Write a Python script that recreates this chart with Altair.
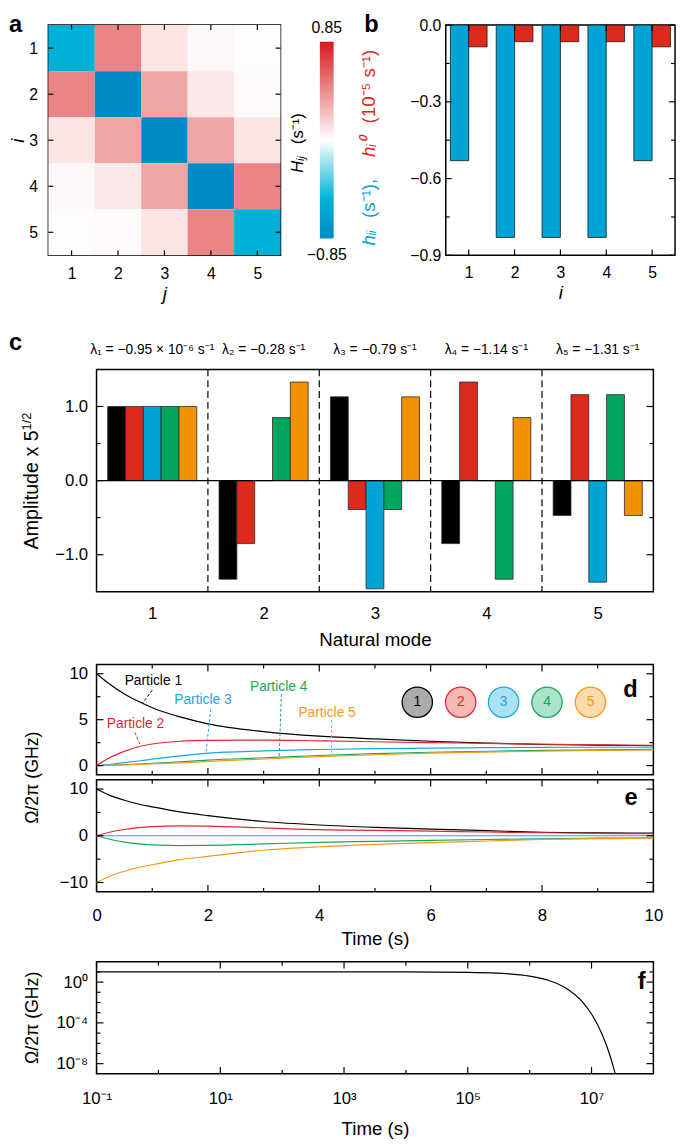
import altair as alt
import pandas as pd

FONT = "Liberation Sans"

# ---------------- data ----------------
idx = [1, 2, 3, 4, 5]
H_row1 = [-0.53, 0.45, 0.10, 0.03, 0.01]
H_row2 = [0.45, -0.83, 0.33, 0.08, 0.02]
H_row3 = [0.10, 0.33, -0.83, 0.33, 0.10]
H_row4 = [0.03, 0.08, 0.33, -0.83, 0.45]
H_row5 = [0.01, 0.02, 0.10, 0.45, -0.53]
cbar_limits = [-0.85, 0.85]
cbar_labels = ["\u22120.85", "0.85"]

h_ii = [-0.53, -0.83, -0.83, -0.83, -0.53]
h_i0 = [-0.085, -0.065, -0.065, -0.065, -0.085]

modes = [1, 2, 3, 4, 5]
amp_p1 = [1.0, -1.33, 1.13, -0.85, -0.47]
amp_p2 = [1.0, -0.85, -0.39, 1.33, 1.16]
amp_p3 = [1.0, 0.0, -1.46, 0.0, -1.37]
amp_p4 = [1.0, 0.85, -0.39, -1.33, 1.16]
amp_p5 = [1.0, 1.33, 1.13, 0.85, -0.47]
mode_edges = [1.5, 2.5, 3.5, 4.5]
lambda_labels = [
    "\u03bb\u2081 = \u22120.95 \u00d7 10\u207b\u2076 s\u207b\u00b9",
    "\u03bb\u2082 = \u22120.28 s\u207b\u00b9",
    "\u03bb\u2083 = \u22120.79 s\u207b\u00b9",
    "\u03bb\u2084 = \u22121.14 s\u207b\u00b9",
    "\u03bb\u2085 = \u22121.31 s\u207b\u00b9",
]

t_pts = [0, 0.25, 0.5, 0.75, 1, 1.5, 2, 3, 4, 5, 6, 7, 8, 9, 10]
d_p1 = [10.0, 8.8, 7.8, 7.0, 6.3, 5.3, 4.55, 3.7, 3.2, 2.9, 2.65, 2.45, 2.3, 2.22, 2.17]
d_p2 = [0.0, 0.9, 1.55, 2.05, 2.35, 2.65, 2.75, 2.78, 2.7, 2.6, 2.5, 2.42, 2.33, 2.27, 2.2]
d_p3 = [0.0, 0.15, 0.32, 0.5, 0.7, 1.05, 1.35, 1.6, 1.75, 1.85, 1.9, 1.95, 1.98, 2.0, 2.0]
d_p4 = [0.0, 0.04, 0.1, 0.17, 0.25, 0.42, 0.6, 0.85, 1.1, 1.3, 1.45, 1.56, 1.65, 1.71, 1.76]
d_p5 = [0.0, 0.03, 0.07, 0.12, 0.18, 0.3, 0.45, 0.72, 0.98, 1.18, 1.35, 1.47, 1.57, 1.64, 1.7]

e_p1 = [10.0, 8.6, 7.6, 6.8, 6.2, 5.1, 4.3, 3.05, 2.3, 1.8, 1.43, 1.1, 0.75, 0.62, 0.55]
e_p2 = [0.0, 0.8, 1.35, 1.75, 1.95, 2.1, 2.05, 1.7, 1.3, 1.15, 1.0, 0.8, 0.65, 0.52, 0.45]
e_p3 = [0.0, 0.0, 0.0, 0.0, 0.0, 0.0, 0.0, 0.0, 0.0, 0.0, 0.0, 0.0, 0.0, 0.0, 0.0]
e_p4 = [0.0, -0.8, -1.35, -1.75, -1.95, -2.1, -2.05, -1.75, -1.4, -1.2, -1.0, -0.8, -0.65, -0.52, -0.45]
e_p5 = [-10.0, -8.6, -7.6, -6.8, -6.2, -5.1, -4.4, -3.1, -2.35, -1.85, -1.45, -1.12, -0.8, -0.62, -0.5]

particle_keys = ["1", "2", "3", "4", "5"]
particle_names = ["Particle 1", "Particle 2", "Particle 3", "Particle 4", "Particle 5"]
label_t = [1.02, 0.70, 1.91, 3.27, 4.14]
label_v = [9.25, 4.47, 7.1, 8.6, 5.75]
leader_t0 = [1.0, 0.69, 2.05, 3.32, 4.22]
leader_v0 = [8.2, 3.62, 6.13, 7.8, 4.96]
leader_t1 = [0.83, 0.79, 1.965, 3.28, 4.22]
leader_v1 = [6.84, 2.13, 1.35, 0.96, 1.06]
circle_t = [5.76, 6.54, 7.31, 8.09, 8.87]
circle_v = [6.9, 6.9, 6.9, 6.9, 6.9]

t_f = [0.1, 1, 10, 100, 1e3, 1e4, 1e5, 3e5, 1e6, 2e6, 4e6, 7e6, 1e7, 1.5e7, 2e7, 2.5e7]
omega_f = [10, 10, 10, 10, 10, 9.9, 9.1, 7.5, 3.9, 1.5, 0.22, 0.013, 7.5e-4, 6.5e-6, 5.6e-8, 4.8e-10]

BAR_COLORS = ["#000000", "#dc2a1c", "#00a3d6", "#00a65d", "#f39200"]
LINE_COLORS = ["#000000", "#e3262d", "#1aa7dd", "#16a85a", "#f7981d"]


# ---------------- helpers ----------------
def ptext(txt, x, y, size=14, color="black", align="center", baseline="middle",
          angle=0, style=None, weight=None):
    kw = dict(fontSize=size, color=color, align=align, baseline=baseline, font=FONT)
    if angle:
        kw["angle"] = angle
    if style:
        kw["fontStyle"] = style
    if weight:
        kw["fontWeight"] = weight
    return alt.Chart(pd.DataFrame({"t": [txt]})).mark_text(**kw).encode(
        text="t:N", x=alt.value(x), y=alt.value(y))


def letter(ch, x, y, align="left", baseline="alphabetic"):
    return ptext(ch, x, y, size=24, align=align, baseline=baseline, weight="bold")


def ticks_layers(W, H, sx=None, sy=None, x_major=(), x_minor=(), y_major=(), y_minor=(),
                 major=7, minor=4):
    layers = []
    for vals, ln in ((y_major, major), (y_minor, minor)):
        if len(vals) == 0:
            continue
        df = pd.DataFrame({"v": list(vals)})
        for side in ("left", "right"):
            x0, x1 = (0, ln) if side == "left" else (W, W - ln)
            layers.append(alt.Chart(df).mark_rule(color="black", strokeWidth=1.2).encode(
                y=alt.Y("v:Q", scale=sy), x=alt.value(x0), x2=alt.value(x1)))
    for vals, ln in ((x_major, major), (x_minor, minor)):
        if len(vals) == 0:
            continue
        df = pd.DataFrame({"v": list(vals)})
        for side in ("bottom", "top"):
            y0, y1 = (H, H - ln) if side == "bottom" else (0, ln)
            layers.append(alt.Chart(df).mark_rule(color="black", strokeWidth=1.2).encode(
                x=alt.X("v:Q", scale=sx), y=alt.value(y0), y2=alt.value(y1)))
    return layers


def spacer(w, h):
    return alt.Chart(pd.DataFrame({"s": [0]})).mark_point(opacity=0).encode(
        x=alt.value(0), y=alt.value(0)
    ).properties(width=w, height=h, view=alt.ViewBackground(stroke=None))


line_scale = alt.Scale(domain=particle_keys, range=LINE_COLORS)
bar_scale = alt.Scale(domain=particle_keys, range=BAR_COLORS)

# ---------------- panel a ----------------
WA, HA = 236, 234
H_rows = [H_row1, H_row2, H_row3, H_row4, H_row5]
hm_df = pd.DataFrame([{"i": i, "j": j, "H": H_rows[i - 1][j - 1]} for i in idx for j in idx])
sxa = alt.Scale(domain=[0.5, 5.5], nice=False, zero=False)
sya = alt.Scale(domain=[0.5, 5.5], nice=False, zero=False, reverse=True)
heat_color = alt.Scale(domain=[-0.85, -0.5, 0, 0.85],
                       range=["#0089c7", "#00b4d8", "#ffffff", "#d7191c"], interpolate="rgb")
heat = alt.Chart(hm_df).transform_calculate(
    j0="datum.j - 0.5", j1="datum.j + 0.5", i0="datum.i - 0.5", i1="datum.i + 0.5"
).mark_rect(strokeWidth=0).encode(
    x=alt.X("j0:Q", scale=sxa, axis=alt.Axis(values=idx, format="d", title="j", labelPadding=11,
                                             titlePadding=3, titleFontStyle="italic",
                                             labelFontSize=16, titleFontSize=19)),
    x2="j1:Q",
    y=alt.Y("i0:Q", scale=sya, axis=alt.Axis(values=idx, format="d", title="i", labelPadding=11,
                                             titlePadding=1, titleFontStyle="italic",
                                             labelFontSize=16, titleFontSize=19)),
    y2="i1:Q",
    color=alt.Color("H:Q", scale=heat_color, legend=None),
)
chartA = alt.layer(
    heat,
    *ticks_layers(WA, HA, sxa, sya, x_major=idx, y_major=idx, major=5),
    letter("a", -40, -12, baseline="top"),
).properties(width=WA, height=HA)

# ---------------- colorbar ----------------
WCB = 14
cb_pad = 17
span = cbar_limits[1] - cbar_limits[0]
px_per_unit = (HA - 2 * cb_pad) / span
cb_dom = [cbar_limits[0] - cb_pad / px_per_unit, cbar_limits[1] + cb_pad / px_per_unit]
sycb = alt.Scale(domain=cb_dom, nice=False, zero=False)
grad = alt.LinearGradient(
    gradient="linear",
    stops=[
        alt.GradientStop(color="#0089c7", offset=0),
        alt.GradientStop(color="#00b4d8", offset=0.206),
        alt.GradientStop(color="#ffffff", offset=0.5),
        alt.GradientStop(color="#d7191c", offset=1),
    ],
    x1=0, x2=0, y1=1, y2=0,
)
cb_rect = alt.Chart(pd.DataFrame({"lo": [cbar_limits[0]], "hi": [cbar_limits[1]]})).mark_rect(
    fill=grad).encode(
    y=alt.Y("lo:Q", scale=sycb, axis=None), y2="hi:Q", x=alt.value(0), x2=alt.value(WCB))
cb_lab_df = pd.DataFrame({"v": cbar_limits, "lab": cbar_labels})
cb_top = alt.Chart(cb_lab_df).transform_filter("datum.v > 0").mark_text(
    fontSize=16, baseline="bottom", dy=-6).encode(
    y=alt.Y("v:Q", scale=sycb), x=alt.value(WCB / 2), text="lab:N")
cb_bot = alt.Chart(cb_lab_df).transform_filter("datum.v < 0").mark_text(
    fontSize=16, baseline="top", dy=9).encode(
    y=alt.Y("v:Q", scale=sycb), x=alt.value(WCB / 2), text="lab:N")
chartCB = alt.layer(
    cb_rect, cb_top, cb_bot,
    ptext("H\u1d62\u2c7c", -22, 150, size=17, align="left", angle=270, style="italic"),
    ptext("(s\u207b\u00b9)", -22, 121, size=17, align="left", angle=270),
).properties(width=88, height=HA, view=alt.ViewBackground(stroke=None))

# ---------------- panel b ----------------
WB, HB = 233, 234
b_df = pd.DataFrame({"i": idx, "h": h_ii, "h0": h_i0})
sxb = alt.Scale(domain=[0.5, 5.5], nice=False, zero=False)
syb = alt.Scale(domain=[-0.9, 0], nice=False, zero=False)
b_blue = alt.Chart(b_df).transform_calculate(
    x0="datum.i - 0.4", x1="datum.i", z="0").mark_rect(
    fill="#00a3d6", stroke="#1a1a1a", strokeWidth=0.8).encode(
    x=alt.X("x0:Q", scale=sxb, axis=alt.Axis(values=idx, format="d", title="i", labelPadding=10,
                                             titlePadding=3, titleFontStyle="italic",
                                             labelFontSize=16, titleFontSize=19)),
    x2="x1:Q",
    y=alt.Y("h:Q", scale=syb, axis=alt.Axis(values=[0, -0.3, -0.6, -0.9], format=".1f",
                                            title=None, labelPadding=5, labelFontSize=16)),
    y2="z:Q",
)
b_red = alt.Chart(b_df).transform_calculate(
    x0="datum.i", x1="datum.i + 0.4", z="0").mark_rect(
    fill="#dc2a1c", stroke="#1a1a1a", strokeWidth=0.8).encode(
    x=alt.X("x0:Q", scale=sxb), x2="x1:Q",
    y=alt.Y("h0:Q", scale=syb), y2="z:Q",
)
BLUE_T = "#00a3d6"
RED_T = "#e0281c"
chartB = alt.layer(
    b_blue, b_red,
    *ticks_layers(WB, HB, sxb, syb, x_major=idx, y_major=[0, -0.3, -0.6, -0.9],
                  y_minor=[-0.15, -0.45, -0.75], major=6, minor=4),
    ptext("h\u1d62\u1d62", -78, 224, size=19, color=BLUE_T, align="left", angle=270, style="italic"),
    ptext("(s\u207b\u00b9),", -78, 196, size=19, color=BLUE_T, align="left", angle=270),
    ptext("h\u1d62\u2070", -78, 134, size=19, color=RED_T, align="left", angle=270, style="italic"),
    ptext("(10\u207b\u2075 s\u207b\u00b9)", -78, 100, size=19, color=RED_T, align="left", angle=270),
    letter("b", -83, -12, baseline="top"),
).properties(width=WB, height=HB)

row1 = alt.hconcat(chartA, chartCB, chartB, spacing=40, bounds="flush")

# ---------------- panel c ----------------
WC, HC = 566, 226
amps = [amp_p1, amp_p2, amp_p3, amp_p4, amp_p5]
c_df = pd.DataFrame([{"mode": m, "k": k, "p": particle_keys[k], "amp": v}
                     for k, a in enumerate(amps) for m, v in zip(modes, a)])
sxc = alt.Scale(domain=[0.5, 5.5], nice=False, zero=False)
syc = alt.Scale(domain=[-1.5, 1.5], nice=False, zero=False)
c_bars = alt.Chart(c_df).transform_calculate(
    x0="datum.mode + (datum.k - 2) * 0.16 - 0.08",
    x1="datum.mode + (datum.k - 2) * 0.16 + 0.08",
    z="0",
).mark_rect(stroke="#2a2a2a", strokeWidth=0.8).encode(
    x=alt.X("x0:Q", scale=sxc, axis=alt.Axis(values=modes, format="d", title="Natural mode",
                                             labelPadding=14, titlePadding=10, titleFontSize=19)),
    x2="x1:Q",
    y=alt.Y("amp:Q", scale=syc, axis=alt.Axis(values=[-1, 0, 1], format=".1f", title=None,
                                              labelPadding=9)),
    y2="z:Q",
    fill=alt.Fill("p:N", scale=bar_scale, legend=None),
)
c_zero = alt.Chart(pd.DataFrame({"z": [0]})).mark_rule(color="black", strokeWidth=1.3).encode(
    y=alt.Y("z:Q", scale=syc))
c_edges = alt.Chart(pd.DataFrame({"e": mode_edges})).mark_rule(
    color="black", strokeWidth=1.2, strokeDash=[7, 4]).encode(x=alt.X("e:Q", scale=sxc))
c_lams = alt.Chart(pd.DataFrame({"mode": modes, "lab": lambda_labels})).mark_text(
    fontSize=14, baseline="middle").encode(
    x=alt.X("mode:Q", scale=sxc), y=alt.value(-20), text="lab:N")
chartC = alt.layer(
    c_bars, c_zero, c_edges,
    *ticks_layers(WC, HC, sxc, syc, y_major=[-1, 0, 1], y_minor=[-0.5, 0.5]),
    c_lams,
    ptext("Amplitude x 5", -65, 183, size=20, align="left", angle=270),
    ptext("1/2", -71, 62, size=13, align="left", angle=270),
    letter("c", -89, -20),
).properties(width=WC, height=HC)

# ---------------- panel d ----------------
WD, HD = 566, 112
d_series = [d_p1, d_p2, d_p3, d_p4, d_p5]
d_df = pd.DataFrame([{"t": t, "v": v, "p": particle_keys[k]}
                     for k, s in enumerate(d_series) for t, v in zip(t_pts, s)])
sxd = alt.Scale(domain=[0, 10], nice=False, zero=False)
syd = alt.Scale(domain=[-1, 11], nice=False, zero=False)
d_lines = alt.Chart(d_df).mark_line(strokeWidth=1.2, interpolate="monotone").encode(
    x=alt.X("t:Q", scale=sxd, axis=None),
    y=alt.Y("v:Q", scale=syd, axis=alt.Axis(values=[0, 5, 10], format="d", title=None,
                                            labelPadding=9)),
    color=alt.Color("p:N", scale=line_scale, legend=None),
)
ann_df = pd.DataFrame({"p": particle_keys, "name": particle_names, "tx": label_t, "ty": label_v,
                       "x1": leader_t0, "y1": leader_v0, "x2": leader_t1, "y2": leader_v1})
d_labels = alt.Chart(ann_df).mark_text(fontSize=14).encode(
    x=alt.X("tx:Q", scale=sxd), y=alt.Y("ty:Q", scale=syd),
    text="name:N", color=alt.Color("p:N", scale=line_scale, legend=None))
d_leaders = alt.Chart(ann_df).mark_rule(strokeWidth=1, strokeDash=[3, 2]).encode(
    x=alt.X("x1:Q", scale=sxd), y=alt.Y("y1:Q", scale=syd),
    x2="x2:Q", y2="y2:Q", color=alt.Color("p:N", scale=line_scale, legend=None))
circ_df = pd.DataFrame({"p": particle_keys, "ct": circle_t, "cv": circle_v})
d_circles = alt.Chart(circ_df).mark_point(
    shape="circle", filled=True, size=950, opacity=1, fillOpacity=0.33, strokeWidth=1.3).encode(
    x=alt.X("ct:Q", scale=sxd), y=alt.Y("cv:Q", scale=syd),
    fill=alt.Fill("p:N", scale=line_scale, legend=None),
    stroke=alt.Stroke("p:N", scale=line_scale, legend=None))
d_nums = alt.Chart(circ_df).mark_text(fontSize=14).encode(
    x=alt.X("ct:Q", scale=sxd), y=alt.Y("cv:Q", scale=syd),
    text="p:N", color=alt.Color("p:N", scale=line_scale, legend=None))
chartD = alt.layer(
    d_lines, d_leaders, d_labels, d_circles, d_nums,
    *ticks_layers(WD, HD, sxd, syd, x_major=[0, 2, 4, 6, 8, 10], x_minor=[1, 3, 5, 7, 9],
                  y_major=[0, 5, 10], y_minor=[2.5, 7.5]),
    ptext("\u03a9/2\u03c0 (GHz)", -65, 115, size=18, angle=270),
    letter("d", WD - 16, 33, align="right"),
).properties(width=WD, height=HD)

# ---------------- panel e ----------------
WE, HE = 566, 114
e_series = [e_p1, e_p2, e_p3, e_p4, e_p5]
e_df = pd.DataFrame([{"t": t, "v": v, "p": particle_keys[k]}
                     for k, s in enumerate(e_series) for t, v in zip(t_pts, s)])
sxe = alt.Scale(domain=[0, 10], nice=False, zero=False)
sye = alt.Scale(domain=[-12, 12], nice=False, zero=False)
e_lines = alt.Chart(e_df).mark_line(strokeWidth=1.2, interpolate="monotone").encode(
    x=alt.X("t:Q", scale=sxe, axis=alt.Axis(values=[0, 2, 4, 6, 8, 10], format="d",
                                            title="Time (s)", labelPadding=16, titlePadding=7,
                                            titleFontSize=19)),
    y=alt.Y("v:Q", scale=sye, axis=alt.Axis(values=[-10, 0, 10], format="d", title=None,
                                            labelPadding=9)),
    color=alt.Color("p:N", scale=line_scale, legend=None),
)
chartE = alt.layer(
    e_lines,
    *ticks_layers(WE, HE, sxe, sye, x_major=[0, 2, 4, 6, 8, 10], x_minor=[1, 3, 5, 7, 9],
                  y_major=[-10, 0, 10], y_minor=[-5, 5]),
    letter("e", WE - 16, 26, align="right"),
).properties(width=WE, height=HE)

# ---------------- panel f ----------------
WF, HF = 566, 114
f_df = pd.DataFrame({"t": t_f, "w": omega_f})
sxf = alt.Scale(type="log", domain=[0.1, 1e8], nice=False)
syf = alt.Scale(type="log", domain=[1e-9, 1e2], nice=False)
x_lab_expr = ("datum.value < 1 ? '10\u207b\u00b9' : datum.value < 100 ? '10\u00b9' : "
              "datum.value < 1e4 ? '10\u00b3' : datum.value < 1e6 ? '10\u2075' : '10\u2077'")
y_lab_expr = ("datum.value > 0.1 ? '10\u2070' : datum.value > 1e-6 ? '10\u207b\u2074' : "
              "'10\u207b\u2078'")
f_line = alt.Chart(f_df).mark_line(color="black", strokeWidth=1.2, interpolate="monotone",
                                   clip=True).encode(
    x=alt.X("t:Q", scale=sxf, axis=alt.Axis(values=[0.1, 10, 1e3, 1e5, 1e7], labelExpr=x_lab_expr,
                                            title="Time (s)", labelPadding=17, titlePadding=14,
                                            titleFontSize=19)),
    y=alt.Y("w:Q", scale=syf, axis=alt.Axis(values=[1, 1e-4, 1e-8], labelExpr=y_lab_expr,
                                            title=None, labelPadding=9)),
)
chartF = alt.layer(
    f_line,
    *ticks_layers(WF, HF, sxf, syf,
                  x_major=[0.1, 10, 1e3, 1e5, 1e7], x_minor=[1, 100, 1e4, 1e6],
                  y_major=[1, 1e-4, 1e-8],
                  y_minor=[1e1, 1e-1, 1e-2, 1e-3, 1e-5, 1e-6, 1e-7]),
    ptext("\u03a9/2\u03c0 (GHz)", -65, 57, size=18, angle=270),
    letter("f", WF - 8, 28, align="right"),
).properties(width=WF, height=HF)

inner = alt.vconcat(chartC, spacer(1, 64), chartD, chartE, spacer(1, 61), chartF,
                    spacing=5, bounds="flush")
row2 = alt.hconcat(spacer(9, 1), inner, spacing=40, bounds="flush")

chart = alt.vconcat(row1, row2, spacing=26).properties(
    padding={"left": 0, "top": -5, "right": 0, "bottom": 0}
).configure(
    font=FONT
).configure_view(
    stroke="black", strokeWidth=1.5
).configure_axis(
    labelFont=FONT, titleFont=FONT, labelColor="black", titleColor="black",
    labelFontSize=17, titleFontSize=18, titleFontWeight="normal",
    ticks=False, domain=False, grid=False, labelFlush=False,
)

chart.save("out.html", embed_options={"renderer": "svg", "actions": False})
